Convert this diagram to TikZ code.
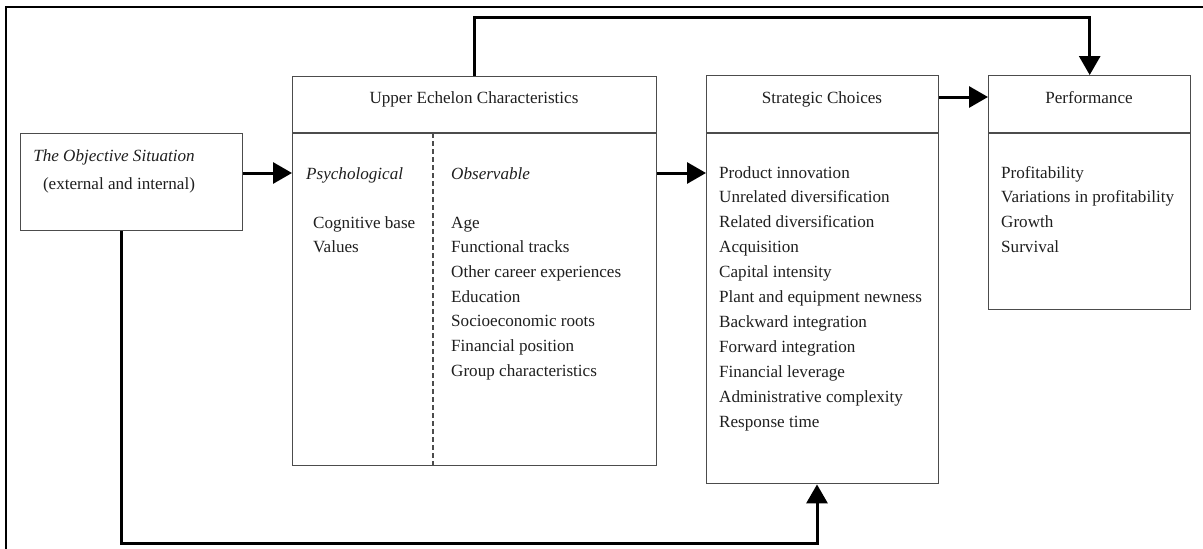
\documentclass[tikz,border=0pt]{standalone}
\usepackage{fontspec}
\setmainfont{Liberation Serif}
\usetikzlibrary{arrows.meta}
\begin{document}
\begin{tikzpicture}[x=1pt,y=-1pt,
  box/.style={draw=black!70, line width=1.4pt, rectangle, inner sep=0pt, anchor=north west},
  rule/.style={draw=black!70, line width=1.4pt},
  flow/.style={draw=black, line width=3pt, -{Triangle[length=19pt,width=21pt]}},
  label/.style={inner sep=0pt, anchor=base west, text=black!88,
    font=\fontsize{17.1}{20}\selectfont},
  title/.style={inner sep=0pt, anchor=base, text=black!88,
    font=\fontsize{17.1}{20}\selectfont}]
\useasboundingbox (0,0) rectangle (1203,549);
% page frame
\draw[line width=2pt] (6,549) -- (6,7) -- (1203,7);

% boxes
\node[box, minimum width=222pt, minimum height=97pt] (obj) at (20,133) {};
\node[box, minimum width=364pt, minimum height=389pt] (ue) at (292,76) {};
\node[box, minimum width=232pt, minimum height=408pt] (sc) at (706,75) {};
\node[box, minimum width=202pt, minimum height=234pt] (perf) at (988,75) {};

% header rules
\coordinate (hdr) at (0,133);
\draw[rule] (ue.west |- hdr) -- (ue.east |- hdr);
\draw[rule] (sc.west |- hdr) -- (sc.east |- hdr);
\draw[rule] (perf.west |- hdr) -- (perf.east |- hdr);
\coordinate (split) at (433,0);
\draw[draw=black!70, line width=1.3pt, dash pattern=on 5pt off 3pt] (split |- hdr) -- (split |- ue.south);

% titles
\node[title] (uet) at (474,103) {Upper Echelon Characteristics};
\node[title] (sct) at (822,103) {Strategic Choices};
\node[title] (perft) at (1089,103) {Performance};

% objective situation
\node[title] (objt1) at (114,161) {\itshape The Objective Situation};
\node[title] (objt2) at (119,189) {(external and internal)};

% upper echelon columns
\node[label] (psy) at (306,179) {\itshape Psychological};
\node[label] (obs) at (451,179) {\itshape Observable};
\foreach \t [count=\i from 0] in {Cognitive base, Values}
  \node[label] (psy\i) at (313,{228+24.7*\i}) {\t};
\foreach \t [count=\i from 0] in {Age, Functional tracks, Other career experiences,
    Education, Socioeconomic roots, Financial position, Group characteristics}
  \node[label] (obs\i) at (451,{228+24.7*\i}) {\t};

% strategic choices
\foreach \t [count=\i from 0] in {Product innovation, Unrelated diversification,
    Related diversification, Acquisition, Capital intensity,
    Plant and equipment newness, Backward integration, Forward integration,
    Financial leverage, Administrative complexity, Response time}
  \node[label] (sc\i) at (719,{178+24.9*\i}) {\t};

% performance
\foreach \t [count=\i from 0] in {Profitability, Variations in profitability,
    Growth, Survival}
  \node[label] (pf\i) at (1001,{178+24.7*\i}) {\t};

% connectors
\coordinate (row) at (0,173);
\coordinate (hrow) at (0,97);
\coordinate (top) at (0,17);
\coordinate (bottom) at (0,543);
\coordinate (down) at (121,0);
\coordinate (up) at (817,0);
\draw[flow] (obj.east |- row) -- (ue.west |- row);
\draw[flow] (ue.east |- row) -- (sc.west |- row);
\draw[flow] (sc.east |- hrow) -- (perf.west |- hrow);
\draw[flow] (ue.north) -- (ue.north |- top) -| (perf.north);
\draw[flow] (obj.south -| down) -- (down |- bottom) -| (sc.south -| up);
\end{tikzpicture}
\end{document}
